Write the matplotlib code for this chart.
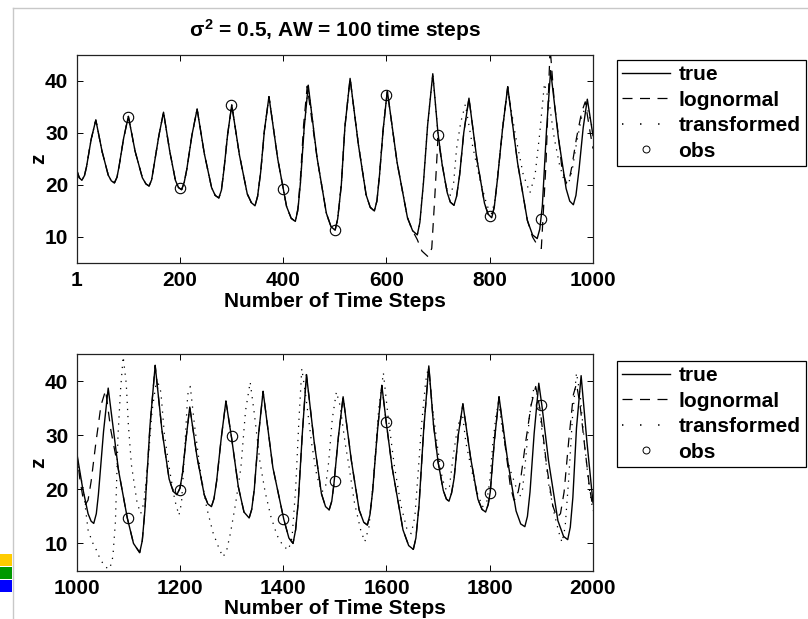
import matplotlib
matplotlib.use("Agg")
import matplotlib.pyplot as plt
from matplotlib.lines import Line2D
from matplotlib.patches import Rectangle

plt.rcParams["font.family"] = ["Liberation Sans", "DejaVu Sans"]
plt.rcParams["font.weight"] = "bold"
plt.rcParams["mathtext.fontset"] = "custom"
plt.rcParams["mathtext.rm"] = "Liberation Sans:bold"
plt.rcParams["mathtext.it"] = "Liberation Sans:bold"
plt.rcParams["mathtext.bf"] = "Liberation Sans:bold"
plt.rcParams["lines.scale_dashes"] = False

# ---- top panel: steps 1..1000 ----
top_true_t = [1, 6, 11, 16, 20, 29, 38, 50, 62, 68, 74, 79, 83, 92, 101, 114, 128, 135, 141, 146,
              150, 160, 169, 181, 192, 198, 204, 209, 214, 224, 234, 248, 262, 269, 276, 281, 286,
              293, 301, 316, 331, 339, 346, 351, 357, 364, 373, 390, 407, 416, 424, 429, 434, 441,
              449, 466, 484, 493, 501, 506, 513, 520, 530, 546, 561, 569, 577, 582, 587, 594, 602,
              621, 641, 651, 660, 665, 672, 680, 690, 700, 708, 718, 724, 731, 736, 742, 750, 760,
              775, 790, 797, 804, 809, 815, 825, 835, 854, 873, 883, 892, 897, 902, 910, 918, 933,
              948, 955, 962, 967, 973, 981, 989, 1000]
top_true_z = [22.9, 21.4, 20.9, 21.8, 23.5, 28.8, 32.5, 26.5, 21.9, 20.8, 20.4, 21.5, 23.6, 29.1,
              33.2, 26.5, 21.4, 20.2, 19.8, 21.0, 23.4, 29.5, 34.0, 26.5, 20.9, 19.5, 19.1, 20.5,
              23.0, 29.6, 34.6, 26.0, 19.5, 18.0, 17.5, 19.0, 23.0, 29.7, 35.4, 25.7, 18.3, 16.6,
              16.0, 17.8, 22.5, 30.3, 37.0, 25.0, 15.9, 13.6, 13.0, 15.2, 20.5, 30.8, 39.2, 25.3,
              14.6, 12.0, 11.3, 13.5, 20.0, 31.2, 40.5, 27.8, 18.1, 15.7, 15.0, 17.0, 22.0, 30.7,
              38.1, 24.3, 13.7, 11.2, 10.4, 12.8, 20.5, 31.5, 41.4, 30.0, 24.0, 18.5, 16.7, 16.1,
              17.8, 22.0, 30.1, 36.7, 25.2, 16.5, 14.4, 13.7, 15.8, 21.0, 30.8, 38.9, 24.3, 13.2,
              10.4, 9.7, 11.5, 16.0, 30.5, 42.0, 29.1, 19.3, 16.9, 16.2, 18.0, 23.0, 31.0, 36.5, 29.5]

top_logn_t = [1, 6, 11, 16, 20, 29, 38, 50, 62, 68, 74, 79, 83, 92, 101, 114, 128, 135, 141, 146,
              150, 160, 169, 181, 192, 198, 204, 209, 214, 224, 234, 248, 262, 269, 276, 281, 286,
              293, 301, 316, 331, 339, 346, 351, 357, 364, 373, 390, 407, 416, 424, 429, 434, 440,
              447, 466, 484, 493, 501, 506, 513, 520, 530, 546, 561, 569, 577, 582, 587, 594, 602,
              621, 641, 651, 660, 669, 681, 688, 694, 700, 708, 718, 724, 731, 736, 742, 750, 760,
              775, 790, 797, 804, 809, 815, 825, 835, 854, 873, 883, 892, 900, 909, 917, 925, 933,
              940, 948, 953, 959, 968, 978, 985, 993, 1000]
top_logn_z = [22.9, 21.4, 20.9, 21.8, 23.5, 28.8, 32.5, 26.5, 21.9, 20.8, 20.4, 21.5, 23.6, 29.1,
              33.2, 26.5, 21.4, 20.2, 19.8, 21.0, 23.4, 29.5, 34.0, 26.5, 20.9, 19.5, 19.1, 20.5,
              23.0, 29.6, 34.6, 26.0, 19.5, 18.0, 17.5, 19.0, 23.0, 29.7, 35.4, 25.7, 18.3, 16.6,
              16.0, 17.8, 22.5, 30.3, 37.0, 25.0, 15.9, 13.6, 13.0, 15.5, 21.5, 31.5, 39.0, 25.3,
              14.6, 12.0, 11.3, 13.5, 20.0, 31.2, 40.5, 27.8, 18.1, 15.7, 15.0, 17.0, 22.0, 30.7,
              38.1, 24.3, 13.7, 11.2, 9.5, 7.3, 6.2, 7.8, 17.9, 29.0, 24.0, 18.5, 16.7, 16.1,
              17.8, 22.0, 30.1, 36.7, 25.2, 16.5, 14.4, 13.7, 15.8, 21.0, 30.8, 38.9, 24.3, 13.2,
              10.0, 8.5, 7.8, 24.0, 46.5, 36.0, 29.5, 23.0, 20.5, 20.5, 23.5, 29.0, 34.0, 36.0,
              31.0, 27.0]

top_trans_t = [1, 6, 11, 16, 20, 29, 38, 50, 62, 68, 74, 79, 83, 92, 101, 114, 128, 135, 141, 146,
               150, 160, 169, 181, 192, 198, 204, 209, 214, 224, 234, 248, 262, 269, 276, 281, 286,
               293, 301, 316, 331, 339, 346, 351, 357, 364, 373, 390, 407, 416, 424, 429, 434, 441,
               449, 466, 484, 493, 501, 506, 513, 520, 530, 546, 561, 569, 577, 582, 587, 594, 602,
               621, 641, 651, 660, 665, 672, 680, 690, 700, 708, 716, 724, 730, 736, 744, 753, 766,
               780, 795, 804, 810, 815, 825, 835, 850, 865, 878, 888, 897, 906, 915, 925, 935, 945,
               952, 960, 968, 978, 987, 1000]
top_trans_z = [22.9, 21.4, 20.9, 21.8, 23.5, 28.8, 32.5, 26.5, 21.9, 20.8, 20.4, 21.5, 23.6, 29.1,
               33.2, 26.5, 21.4, 20.2, 19.8, 21.0, 23.4, 29.5, 34.0, 26.5, 20.9, 19.5, 19.1, 20.5,
               23.0, 29.6, 34.6, 26.0, 19.5, 18.0, 17.5, 19.0, 23.0, 29.7, 35.4, 25.7, 18.3, 16.6,
               16.0, 17.8, 22.5, 30.3, 37.0, 25.0, 15.9, 13.6, 13.0, 15.2, 20.5, 30.8, 39.2, 25.3,
               14.6, 12.0, 11.3, 13.5, 20.0, 31.2, 40.5, 27.8, 18.1, 15.7, 15.0, 17.0, 22.0, 30.7,
               38.1, 24.3, 13.7, 11.2, 10.4, 12.8, 20.5, 31.5, 41.4, 30.0, 24.0, 19.5, 18.0, 20.0,
               27.0, 32.0, 35.5, 28.0, 21.5, 16.0, 14.5, 17.0, 21.0, 31.0, 38.5, 29.5, 22.0, 18.5,
               22.0, 30.0, 39.5, 36.0, 29.0, 24.0, 20.5, 20.0, 23.0, 28.0, 33.0, 35.5, 30.5]

top_obs_t = [100, 200, 300, 400, 500, 600, 700, 800, 900]
top_obs_z = [33.0, 19.5, 35.4, 19.3, 11.3, 37.3, 29.6, 14.0, 13.5]

# ---- bottom panel: steps 1000..2000 ----
bot_true_t = [1000, 1011, 1022, 1028, 1033, 1038, 1042, 1052, 1061, 1081, 1098, 1110, 1122, 1127,
              1132, 1142, 1152, 1165, 1179, 1187, 1194, 1200, 1205, 1212, 1219, 1233, 1247, 1254,
              1261, 1266, 1271, 1280, 1289, 1300, 1313, 1324, 1334, 1339, 1344, 1352, 1361, 1380,
              1401, 1411, 1419, 1424, 1429, 1437, 1445, 1460, 1474, 1482, 1489, 1494, 1498, 1507,
              1516, 1532, 1547, 1556, 1563, 1568, 1573, 1582, 1591, 1600, 1611, 1632, 1643, 1652,
              1657, 1663, 1672, 1682, 1691, 1700, 1710, 1716, 1721, 1726, 1731, 1739, 1748, 1763,
              1777, 1785, 1792, 1797, 1801, 1809, 1818, 1835, 1851, 1860, 1868, 1873, 1878, 1886,
              1895, 1901, 1914, 1932, 1943, 1951, 1956, 1961, 1968, 1977, 1988, 2000]
bot_true_z = [26.8, 20.5, 15.5, 14.1, 13.7, 15.5, 19.0, 30.7, 38.7, 23.5, 14.7, 10.0, 8.3, 10.5,
              16.0, 31.8, 42.9, 31.0, 21.9, 19.6, 19.0, 20.2, 23.0, 29.5, 35.2, 26.0, 19.0, 17.3,
              16.8, 18.3, 21.5, 29.5, 36.3, 29.5, 20.5, 15.8, 14.7, 16.3, 20.0, 29.9, 38.1, 24.0,
              14.5, 11.0, 10.0, 12.5, 17.5, 30.3, 41.2, 28.7, 19.2, 16.8, 16.2, 17.8, 20.8, 29.8,
              37.1, 25.3, 16.2, 13.9, 13.4, 15.3, 19.5, 30.2, 39.2, 32.0, 24.0, 12.5, 9.6, 8.9,
              11.0, 17.0, 30.9, 42.8, 32.0, 25.0, 19.8, 18.2, 17.8, 19.3, 22.0, 30.0, 35.8, 25.8,
              18.2, 16.3, 15.8, 17.2, 19.5, 29.0, 37.1, 25.1, 16.0, 13.6, 13.1, 15.0, 19.5, 30.3,
              39.6, 35.5, 25.2, 14.2, 11.3, 10.7, 13.0, 18.5, 31.3, 41.0, 29.0, 17.5]

bot_logn_t = [1000, 1006, 1012, 1017, 1022, 1028, 1037, 1047, 1056, 1066, 1081, 1098, 1110, 1122,
              1127, 1132, 1142, 1152, 1165, 1179, 1187, 1194, 1200, 1205, 1212, 1219, 1233, 1247,
              1254, 1261, 1266, 1271, 1280, 1289, 1300, 1313, 1324, 1334, 1339, 1344, 1352, 1361,
              1380, 1401, 1411, 1419, 1424, 1429, 1437, 1445, 1460, 1474, 1482, 1489, 1494, 1498,
              1507, 1516, 1532, 1547, 1556, 1563, 1568, 1573, 1582, 1591, 1600, 1611, 1632, 1643,
              1652, 1657, 1663, 1672, 1682, 1691, 1700, 1710, 1716, 1721, 1726, 1731, 1739, 1748,
              1763, 1777, 1785, 1792, 1797, 1801, 1809, 1818, 1830, 1840, 1847, 1853, 1860, 1870,
              1880, 1889, 1898, 1910, 1922, 1930, 1937, 1944, 1953, 1962, 1968, 1975, 1985, 1993,
              2000]
bot_logn_z = [26.8, 22.0, 18.5, 17.2, 18.0, 21.5, 28.5, 35.5, 38.3, 31.0, 23.5, 14.7, 10.0, 8.3,
              10.5, 16.0, 31.8, 42.9, 31.0, 21.9, 19.6, 19.0, 20.2, 23.0, 29.5, 35.2, 26.0, 19.0,
              17.3, 16.8, 18.3, 21.5, 29.5, 36.3, 29.5, 20.5, 15.8, 14.7, 16.3, 20.0, 29.9, 38.1,
              24.0, 14.5, 11.0, 10.0, 12.5, 17.5, 30.3, 41.2, 28.7, 19.2, 16.8, 16.2, 17.8, 20.8,
              29.8, 37.1, 25.3, 16.2, 13.9, 13.4, 15.3, 19.5, 30.2, 39.2, 32.0, 24.0, 12.5, 9.6,
              8.9, 11.0, 17.0, 30.9, 42.8, 32.0, 25.0, 19.8, 18.2, 17.8, 19.3, 22.0, 30.0, 35.8,
              25.8, 18.2, 16.3, 15.8, 17.2, 19.5, 29.0, 37.1, 28.0, 20.5, 18.0, 18.5, 22.0, 29.0,
              35.5, 39.0, 34.5, 24.5, 17.0, 14.8, 15.5, 19.5, 29.0, 37.5, 39.5, 35.5, 27.0, 20.5,
              16.5]

bot_trans_t = [1000, 1012, 1022, 1030, 1038, 1046, 1056, 1064, 1070, 1075, 1080, 1085, 1090, 1096,
               1100, 1106, 1117, 1124, 1130, 1138, 1146, 1155, 1163, 1170, 1180, 1190, 1198, 1203,
               1209, 1215, 1220, 1228, 1240, 1252, 1264, 1274, 1283, 1290, 1298, 1308, 1318, 1327,
               1336, 1344, 1355, 1365, 1376, 1388, 1400, 1410, 1417, 1424, 1430, 1436, 1444, 1455,
               1465, 1475, 1482, 1488, 1495, 1503, 1510, 1520, 1527, 1538, 1550, 1558, 1566, 1575,
               1585, 1594, 1603, 1615, 1628, 1640, 1648, 1655, 1662, 1668, 1676, 1681, 1690, 1700,
               1708, 1716, 1722, 1729, 1736, 1742, 1747, 1754, 1765, 1775, 1786, 1794, 1800, 1806,
               1812, 1817, 1826, 1838, 1849, 1857, 1863, 1870, 1877, 1885, 1892, 1903, 1914, 1925,
               1934, 1940, 1946, 1953, 1960, 1968, 1975, 1984, 1993, 2000]
bot_trans_z = [25.5, 20.5, 12.5, 10.3, 8.8, 7.0, 5.6, 5.3, 7.5, 14.0, 30.0, 38.5, 44.5, 39.5,
               32.0, 24.5, 17.5, 15.5, 17.5, 25.0, 34.5, 40.5, 38.0, 30.0, 23.5, 18.0, 15.2, 17.5,
               27.0, 37.5, 39.0, 32.0, 23.0, 16.5, 12.0, 9.5, 7.5, 8.5, 12.0, 17.5, 24.0, 34.5,
               39.8, 34.0, 25.0, 19.5, 15.0, 11.5, 9.5, 8.8, 11.0, 20.0, 32.0, 42.3, 37.0, 28.5,
               22.5, 19.5, 20.5, 25.0, 33.0, 38.0, 35.5, 28.5, 24.5, 17.5, 12.5, 10.3, 13.0, 22.0,
               35.0, 41.5, 33.5, 24.5, 17.0, 12.5, 11.8, 15.0, 24.0, 32.0, 40.0, 42.5, 34.5, 27.0,
               22.0, 19.8, 20.5, 26.0, 30.5, 33.0, 34.0, 28.5, 23.5, 19.5, 16.8, 17.5, 21.5, 28.5,
               33.5, 36.0, 30.0, 24.0, 21.0, 18.5, 19.5, 26.0, 33.5, 38.5, 37.5, 29.5, 21.0, 15.5,
               12.0, 10.2, 13.0, 22.0, 33.0, 41.5, 37.5, 28.0, 20.0, 16.0]

bot_obs_t = [1100, 1200, 1300, 1400, 1500, 1600, 1700, 1800, 1900]
bot_obs_z = [14.7, 19.9, 29.8, 14.5, 21.5, 32.4, 24.6, 19.3, 35.6]

legend_labels = ["true", "lognormal", "transformed", "obs"]
title_text = r"$\sigma^2$ = 0.5, AW = 100 time steps"

W, H = 808, 619
fig = plt.figure(figsize=(W / 100, H / 100), dpi=100)

def px_box(x0, y0, x1, y1):
    return [x0 / W, 1 - y1 / H, (x1 - x0) / W, (y1 - y0) / H]

ax1 = fig.add_axes(px_box(76.7, 55, 593, 263))
ax2 = fig.add_axes(px_box(76.7, 354, 593, 570.5))

DASH = (7.0, 5.5)
DOT = (0.9, 4.2)

panels = [
    (ax1, top_true_t, top_true_z, top_logn_t, top_logn_z, top_trans_t, top_trans_z,
     top_obs_t, top_obs_z, (1, 1000), [1, 200, 400, 600, 800, 1000], 60),
    (ax2, bot_true_t, bot_true_z, bot_logn_t, bot_logn_z, bot_trans_t, bot_trans_z,
     bot_obs_t, bot_obs_z, (1000, 2000), [1000, 1200, 1400, 1600, 1800, 2000], 361),
]

for (ax, tt, tz, lt, lz, rt, rz, ot, oz, xlim, xticks, leg_top) in panels:
    ax.plot(tt, tz, color="black", lw=1.0, solid_joinstyle="round")
    ax.plot(lt, lz, color="black", lw=0.9, dashes=DASH)
    ax.plot(rt, rz, color="black", lw=0.9, dashes=DOT)
    ax.plot(ot, oz, linestyle="none", marker="o", ms=7.5, mfc="none", mec="black", mew=0.8)

    ax.set_xlim(*xlim)
    ax.set_ylim(5, 45)
    ax.set_xticks(xticks)
    ax.set_yticks([10, 20, 30, 40])
    ax.tick_params(direction="in", length=4, width=0.7, top=True, right=True,
                   labelsize=15, pad=6)
    for s in ax.spines.values():
        s.set_linewidth(0.9)
        s.set_color("#222222")
    ax.set_xlabel("Number of Time Steps", fontsize=15, fontweight="bold", labelpad=1)
    ax.set_ylabel("z", fontsize=15, fontweight="bold", labelpad=-2)

    handles = [
        Line2D([], [], color="black", lw=1.0),
        Line2D([], [], color="black", lw=0.9, dashes=(7.2, 5.4)),
        Line2D([], [], color="black", lw=1.2, dashes=(1.0, 12.0)),
        Line2D([], [], linestyle="none", marker="o", ms=5, mfc="none", mec="black", mew=0.7),
    ]
    leg = ax.legend(handles, legend_labels, loc="upper left",
                    bbox_to_anchor=(617 / W, 1 - leg_top / H), bbox_transform=fig.transFigure,
                    borderaxespad=0, fancybox=False, framealpha=1, edgecolor="black",
                    fontsize=15, handlelength=2.3, handletextpad=0.4, labelspacing=0.31,
                    borderpad=0.25)
    leg.get_frame().set_linewidth(0.9)

ax1.set_title(title_text, fontsize=15, fontweight="bold", pad=13)

# page artefacts at the left edge of the original screenshot
fig.add_artist(Line2D([12.5 / W, 12.5 / W], [0, 1 - 8 / H], color="#c8c8c8", lw=1,
                      transform=fig.transFigure))
fig.add_artist(Line2D([12.5 / W, 1], [1 - 8 / H, 1 - 8 / H], color="#c8c8c8", lw=1,
                      transform=fig.transFigure))
for y0, col in [(554, "#ffcc00"), (567, "#009900"), (580, "#0000ff")]:
    fig.add_artist(Rectangle((0, 1 - (y0 + 12) / H), 12 / W, 12 / H, color=col,
                             transform=fig.transFigure, lw=0))

fig.savefig("out.png", dpi=100)
